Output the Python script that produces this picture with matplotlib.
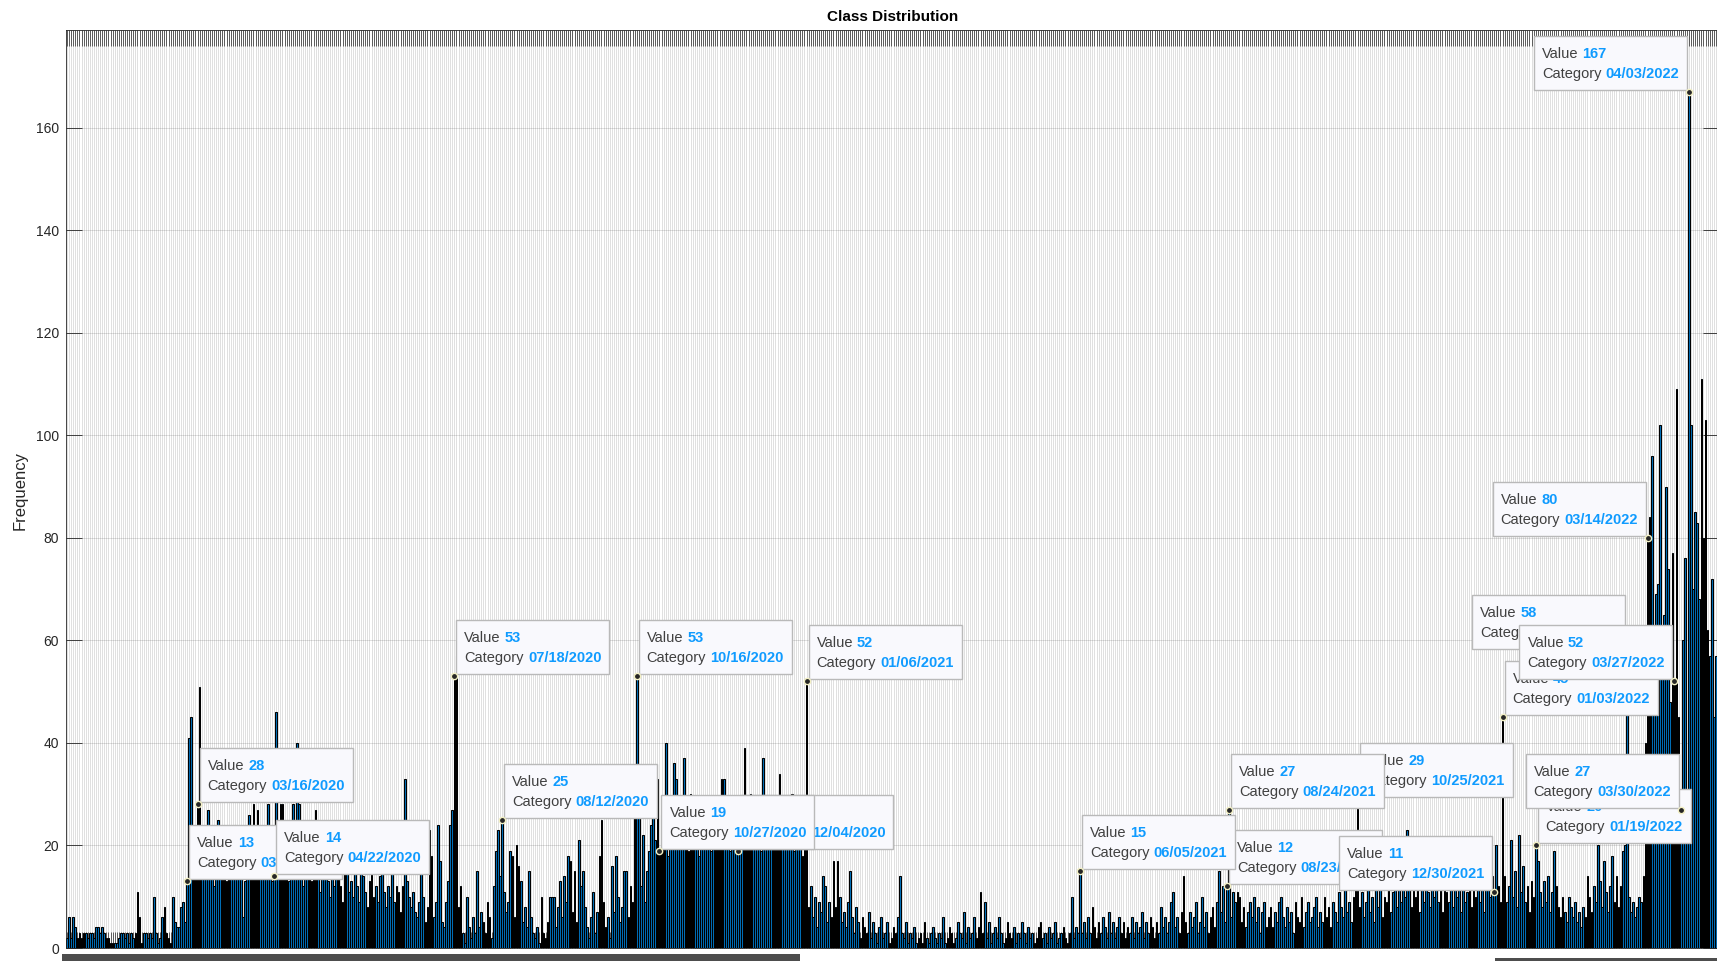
import matplotlib.pyplot as plt
import matplotlib.transforms as mtransforms
from matplotlib.patches import Rectangle
import numpy as np
import pandas as pd

plt.rcParams['font.family'] = ['Liberation Sans', 'DejaVu Sans']

# days present in the data (a few stretches have no records)
firstDay = '2020-01-13'
lastDay = '2022-04-17'
missingRanges = [('2020-08-01', '2020-08-02'),
                 ('2021-02-05', '2021-02-22'),
                 ('2021-07-01', '2021-07-08')]

segA = [2, 6, 2, 6, 4, 2, 3, 2, 3, 3, 2, 3, 3, 2, 4, 4, 3, 4, 3, 2,
        2, 1, 1, 1, 1, 2, 3, 3, 2, 3, 1, 3, 2, 3, 11, 6, 1, 3, 3, 2,
        3, 2, 10, 3, 1, 2, 6, 8, 3, 2, 1, 10, 5, 4, 4, 8, 9, 5]
segB = [13, 41, 45, 22, 18, 28, 51, 20, 16, 14, 27, 18, 15, 12, 17, 25, 14, 20, 16, 13,
        22, 18, 15, 24, 19, 14, 21, 6, 13, 20, 26, 18, 28, 22, 27, 16, 19, 14, 23, 28,
        17, 13, 14, 46, 19, 28, 28, 16, 21, 13, 18, 28, 15, 40, 28, 17, 12, 22, 15, 19,
        13, 16, 27, 14, 11, 18, 15, 21, 13, 10, 17, 12]
segC = [14, 18, 12, 9, 15, 22, 11, 13, 10, 18, 12, 9, 20, 14, 11, 8, 13, 17, 10, 12,
        9, 14, 19, 11, 8, 12, 10, 15, 9, 12, 11, 7, 12, 33, 13, 10, 8, 11, 7, 6,
        9, 22, 10, 5, 8, 23, 18, 6, 9, 24, 17, 5, 4, 9, 13, 24, 27]
segD = [53, 57, 8, 12, 3, 1, 10, 4, 2, 6, 3, 15, 4, 7, 5, 3, 9, 6, 2, 12,
        19, 23, 14, 25, 11, 7, 9, 19, 18, 6, 20, 16, 13, 5, 8, 4, 15, 6, 3, 2,
        4, 1, 10, 3, 2, 5, 10, 10, 10, 4, 8, 13, 6, 14, 9, 18, 17, 7, 15, 5,
        21, 12, 15, 8, 4, 2, 6, 11, 3, 7, 18, 25, 9, 4, 6, 2, 16, 7, 18, 10,
        5, 8, 15, 15, 6, 12, 9, 30]
segE = [53, 28, 12, 22, 9, 15, 19, 24, 30, 21, 33, 19, 26, 22, 40, 18, 28, 24, 36, 33,
        20, 26, 22, 37, 25, 19, 30, 21, 27, 23, 18, 29, 24, 20, 26, 22, 19, 28, 21, 25,
        20, 33, 33, 22, 27, 19, 24, 29, 21, 19, 26, 22, 39, 20, 25, 30, 22, 27, 21, 24,
        19, 37, 26, 22, 28, 20, 24, 29, 21, 34, 23, 27, 20, 25, 22, 30, 19, 24, 21, 26,
        18, 22, 52]
segF = [8, 12, 6, 10, 4, 9, 7, 14, 12, 5, 9, 6, 17, 8, 17, 10, 5, 7, 4, 9,
        15, 6, 3, 8, 5, 2, 6, 4, 3, 7, 2, 5, 3, 1, 4, 6, 2, 3, 5, 1,
        2, 4, 3, 6, 14, 3, 2, 5, 1, 3, 2, 4, 1, 2, 3, 1, 5, 2, 1, 3,
        4, 2, 1, 3, 2, 6, 1, 2, 4, 3, 1, 2, 5, 3, 2, 7, 1, 4, 2, 3,
        6, 2, 4, 11, 3, 9, 2, 5, 1, 3, 4, 2, 6, 3, 1, 2, 5, 3, 2, 4,
        1, 3, 2, 5, 3, 1, 4, 2, 3, 1, 2, 4, 5, 2, 3, 1, 4, 2, 3, 5,
        1, 2, 3, 4, 2, 1, 3, 10, 2, 4, 3]
segG = [15, 3, 5, 2, 6, 3, 8, 4, 2, 5, 3, 6, 4, 2, 7, 3, 5, 2, 4, 6,
        3, 5, 2, 4, 3, 6, 2, 5, 3, 4, 7, 2, 5, 3, 6, 4, 2, 5, 3, 8,
        4, 6, 3, 5, 9, 11, 4, 6, 3, 7, 14, 5, 3, 7, 4, 6, 9, 3, 5, 10,
        4, 7, 3, 6, 8, 4, 9, 15, 7, 12, 5, 12]
segH = [27, 6, 11, 9, 11, 10, 5, 8, 4, 7, 9, 6, 10, 5, 8, 3, 7, 9, 4, 6,
        8, 4, 7, 5, 9, 10, 6, 4, 8, 5, 7, 3, 9, 6, 5, 10, 4, 7, 9, 5,
        6, 8, 10, 4, 7, 5, 10, 6, 8, 4, 9, 7, 5, 11, 8, 6, 12, 7, 9, 5,
        10, 14, 29, 8, 11, 6, 9, 13, 7, 10, 5, 12, 8, 14, 6, 10, 9, 13, 7, 11,
        15, 8, 12, 9, 14, 10, 23, 12, 8, 13, 10, 15, 7, 12, 9, 14, 11, 8, 13, 10,
        16, 9, 12, 7, 14, 11, 9, 15, 8, 13, 10, 12, 7, 14, 9, 11, 13, 8, 12, 10,
        15, 9, 13, 7, 12, 16, 10, 14, 11, 20, 12, 9, 45, 14, 9, 12, 21, 10, 15, 8,
        22, 11, 16, 9, 12, 7, 13, 10, 20, 17, 11, 8, 13, 9, 14, 7, 11, 19, 12, 8,
        6, 10, 7, 5, 10, 8, 6, 9, 5, 7, 4, 8, 6, 14, 10, 7, 12, 9, 20, 13,
        8, 17, 11, 7, 12, 18, 9, 14, 8, 12, 19, 20, 58, 10, 7, 9, 6, 8, 10, 9]
segI = [14, 40, 80, 84, 96, 60, 69, 71, 102, 55, 65, 90, 74, 48, 77, 52, 109, 45, 27, 60,
        76, 30, 167, 102, 70, 85, 83, 68, 111, 80, 103, 62, 57, 72, 45, 57, 50]
counts = segA + segB + segC + segD + segE + segF + segG + segH + segI

# data tips in the order they were placed, box side relative to the point
tipDays = ['03/11/2020', '03/16/2020', '04/22/2020', '07/18/2020', '10/16/2020',
           '01/06/2021', '08/12/2020', '12/04/2020', '10/27/2020', '08/23/2021',
           '06/05/2021', '10/25/2021', '08/24/2021', '12/30/2021', '03/04/2022',
           '01/03/2022', '03/27/2022', '03/14/2022', '01/19/2022', '03/30/2022',
           '04/03/2022']
tipSides = ['r', 'r', 'r', 'r', 'r',
            'r', 'r', 'r', 'r', 'r',
            'r', 'r', 'r', 'l', 'l',
            'r', 'l', 'l', 'r', 'l',
            'l']

allDays = pd.date_range(firstDay, lastDay)
keep = np.ones(len(allDays), dtype=bool)
for a, b in missingRanges:
    keep &= ~((allDays >= a) & (allDays <= b))
categories = [d.strftime('%m/%d/%Y') for d in allDays[keep]]
N = len(categories)
x = np.arange(1, N + 1)

W, H = 1717, 961
fig = plt.figure(figsize=(W / 100, H / 100), dpi=100)
ax = fig.add_axes([66 / W, 13 / H, 1653 / W, 918.5 / H])

ax.bar(x, counts, width=0.8, color='#0072BD', edgecolor='black', linewidth=0.75)
ax.set_xlim(0.5, N + 0.5)
ax.set_ylim(0, 179.2)
ax.set_xticks(x)
ax.set_yticks(np.arange(0, 161, 20))
ax.tick_params(axis='x', direction='in', length=11.5, width=0.5, color='#262626',
               top=True, bottom=True, labelbottom=False)
ax.tick_params(axis='y', direction='in', length=11.5, width=0.6, color='#262626',
               left=True, right=True, labelsize=10, labelcolor='#262626', pad=5)
ax.grid(True, color='#262626', alpha=0.2, linewidth=0.5)
ax.set_axisbelow(True)
for s in ax.spines.values():
    s.set_color('#262626')
    s.set_linewidth(0.6)

fig.text(892.5 / W, 1 - 17 / H, 'Class Distribution', ha='center', va='center',
         fontsize=11, fontweight='bold', color='black')
fig.text(20 / W, 1 - 490 / H, 'Frequency', rotation=90, ha='center', va='center',
         fontsize=12, color='#262626')

# clipped tick label strip along the bottom edge
fig.patches.append(Rectangle((62, 0), 738, 7, transform=mtransforms.IdentityTransform(),
                             facecolor='#4d4d4d', edgecolor='none', figure=fig))
fig.patches.append(Rectangle((1495, 0), 222, 3, transform=mtransforms.IdentityTransform(),
                             facecolor='#4d4d4d', edgecolor='none', figure=fig))

ident = mtransforms.IdentityTransform()
boxW, boxH = 153, 54
for k in range(len(tipDays)):
    i = categories.index(tipDays[k])
    v = counts[i]
    px, py = ax.transData.transform((i + 1, v))
    if tipSides[k] == 'r':
        left = px + 2
    else:
        left = px - 2 - boxW
    bottom = py + 2
    z = 10 + 5 * k
    ax.add_patch(Rectangle((left, bottom), boxW, boxH, transform=ident, facecolor='#f9f9fd',
                           edgecolor='#b9b9b9', linewidth=1, zorder=z, clip_on=False))
    top = bottom + boxH
    t1 = ax.text(left + 8, top - 18, 'Value', transform=ident, va='center', ha='left',
                 fontsize=10.5, color='#404040', zorder=z + 1, clip_on=False)
    ax.annotate(str(v), xy=(1, 0.5), xycoords=t1, xytext=(4, 0), textcoords='offset pixels',
                va='center', ha='left', fontsize=10.5, fontweight='bold', color='#0f9bff',
                zorder=z + 1, annotation_clip=False)
    t2 = ax.text(left + 8, top - 38, 'Category', transform=ident, va='center', ha='left',
                 fontsize=10.5, color='#404040', zorder=z + 1, clip_on=False)
    ax.annotate(tipDays[k], xy=(1, 0.5), xycoords=t2, xytext=(4, 0), textcoords='offset pixels',
                va='center', ha='left', fontsize=10.5, fontweight='bold', color='#0f9bff',
                zorder=z + 1, annotation_clip=False)
    ax.plot(i + 1, v, 'o', markersize=4.5, markerfacecolor='#262626',
            markeredgecolor='#f3f0c4', markeredgewidth=1, zorder=z + 2, clip_on=False)

fig.savefig('out.png', dpi=100)
